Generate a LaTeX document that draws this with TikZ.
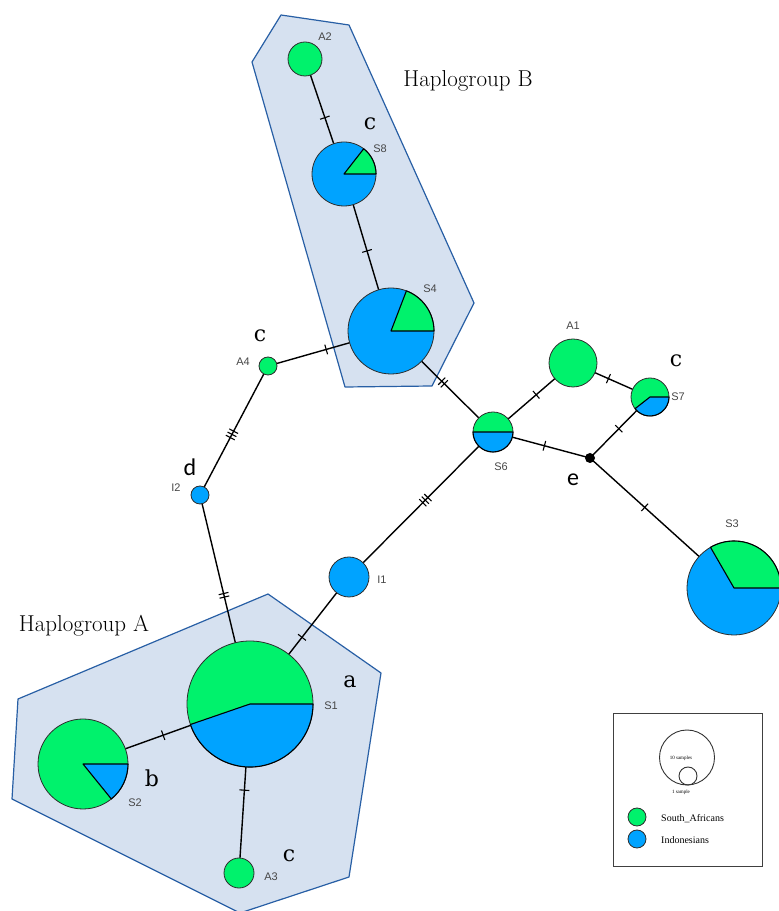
\documentclass[tikz,border=0pt]{standalone}
\usepackage{fontspec}
\newfontfamily\labfont{Liberation Sans}
\newfontfamily\legfont{Liberation Serif}
\newfontfamily\carlfont{Carlito}
\newfontfamily\letfont{DejaVu Serif}
\usetikzlibrary{decorations.markings}
\definecolor{sa}{RGB}{0,242,108}
\definecolor{ind}{RGB}{0,163,255}
\definecolor{grpfill}{RGB}{214,225,240}
\definecolor{grpline}{RGB}{40,95,165}
\definecolor{pieline}{RGB}{45,45,45}
\definecolor{labgray}{RGB}{70,70,70}
\pgfdeclarelayer{bg}
\pgfsetlayers{bg,main}
\begin{document}
\begin{tikzpicture}[x=1pt,y=1pt,
  edge/.style={line width=1.4pt, black},
  grp/.style={fill=grpfill, draw=grpline, line width=1.2pt, line join=round},
  hap/.style={circle, inner sep=0pt, draw=pieline, line width=0.8pt},
  sector/.style={draw=black, line width=1.1pt, line join=round},
  lbl/.style={font=\labfont\fontsize{11}{13}\selectfont, text=labgray, inner sep=0pt},
  letr/.style={font=\letfont\fontsize{22}{26}\selectfont, inner sep=0pt},
  letrs/.style={font=\carlfont\fontsize{24}{28}\selectfont, inner sep=0pt},
  grptext/.style={font=\fontsize{23}{27}\selectfont, inner sep=0pt},
  legtext/.style={font=\legfont\fontsize{10}{12}\selectfont, inner sep=0pt, anchor=west},
  tinytext/.style={font=\legfont\fontsize{5}{6}\selectfont, inner sep=0pt},
  tone/.style={postaction={decorate}, decoration={markings, mark=at position #1 with {\draw[line width=1.1pt] (0,-5pt)--(0,5pt);}}},
  ttwo/.style={postaction={decorate}, decoration={markings, mark=at position #1 with {\draw[line width=1.1pt] (-1.8pt,-5pt)--(-1.8pt,5pt) (1.8pt,-5pt)--(1.8pt,5pt);}}},
  tthree/.style={postaction={decorate}, decoration={markings, mark=at position #1 with {\draw[line width=1.1pt] (-3.6pt,-5pt)--(-3.6pt,5pt) (0,-5pt)--(0,5pt) (3.6pt,-5pt)--(3.6pt,5pt);}}}
]
\useasboundingbox (0,0) rectangle (779,911);

% haplotype circles
\node[hap, fill=sa,  minimum size=34pt] (A2) at (305,852) {};
\node[hap, fill=ind, minimum size=64pt] (S8) at (344,737) {};
\node[hap, fill=ind, minimum size=86pt] (S4) at (391,580) {};
\node[hap, fill=sa,  minimum size=18pt] (A4) at (268,545) {};
\node[hap, fill=ind, minimum size=18pt] (I2) at (200,416) {};
\node[hap, fill=ind, minimum size=40pt] (I1) at (349,334) {};
\node[hap, fill=sa,  minimum size=126pt] (S1) at (250,207) {};
\node[hap, fill=sa,  minimum size=90pt] (S2) at (83,147) {};
\node[hap, fill=sa,  minimum size=30pt] (A3) at (239,38) {};
\node[hap, fill=sa,  minimum size=40pt] (S6) at (493,479) {};
\node[hap, fill=sa,  minimum size=48pt] (A1) at (573,548) {};
\node[hap, fill=sa,  minimum size=38pt] (S7) at (650,514) {};
\node[circle, inner sep=0pt, fill=black, minimum size=10pt] (e) at (590,453) {};
\node[hap, fill=ind, minimum size=94pt] (S3) at (734,323) {};

\begin{pgfonlayer}{bg}
\filldraw[grp] (281,896) -- (349,886) -- (474,608) -- (432,525) -- (345,524) -- (252,849) -- cycle;
\filldraw[grp] (268,317) -- (381,238) -- (349,34) -- (240,-2) -- (12,112) -- (18,212) -- cycle;
\draw[edge, tone=0.51] (A2.center) -- (S8.center);
\draw[edge, tone=0.49] (S8.center) -- (S4.center);
\draw[edge, tone=0.527] (S4.center) -- (A4.center);
\draw[edge, ttwo=0.51] (S4.center) -- (S6.center);
\draw[edge, tthree=0.53] (A4.center) -- (I2.center);
\draw[edge, ttwo=0.48] (I2.center) -- (S1.center);
\draw[edge, tone=0.525] (S1.center) -- (I1.center);
\draw[edge, tthree=0.53] (I1.center) -- (S6.center);
\draw[edge, tone=0.48] (S2.center) -- (S1.center);
\draw[edge, tone=0.51] (S1.center) -- (A3.center);
\draw[edge, tone=0.54] (S6.center) -- (A1.center);
\draw[edge, tone=0.46] (A1.center) -- (S7.center);
\draw[edge, tone=0.52] (S7.center) -- (e.center);
\draw[edge, tone=0.53] (S6.center) -- (e.center);
\draw[edge, tone=0.38] (e.center) -- (S3.center);
\end{pgfonlayer}

% pie sectors
\filldraw[sector, fill=sa]  (S8.center) -- ++(0:32pt) arc[start angle=0, end angle=52, radius=32pt] -- cycle;
\filldraw[sector, fill=sa]  (S4.center) -- ++(0:43pt) arc[start angle=0, end angle=69, radius=43pt] -- cycle;
\filldraw[sector, fill=ind] (S1.center) -- ++(199:63pt) arc[start angle=199, end angle=360, radius=63pt] -- cycle;
\filldraw[sector, fill=ind] (S2.center) -- ++(-51:45pt) arc[start angle=-51, end angle=0, radius=45pt] -- cycle;
\filldraw[sector, fill=ind] (S6.center) -- ++(180:20pt) arc[start angle=180, end angle=360, radius=20pt] -- cycle;
\filldraw[sector, fill=ind] (S7.center) -- ++(218:19pt) arc[start angle=218, end angle=360, radius=19pt] -- cycle;
\filldraw[sector, fill=sa]  (S3.center) -- ++(0:47pt) arc[start angle=0, end angle=120, radius=47pt] -- cycle;

% haplotype labels
\node[lbl] (lA2) at (325,874) {A2};
\node[lbl] (lS8) at (380,762) {S8};
\node[lbl] (lS4) at (430,622) {S4};
\node[lbl] (lA4) at (243,549) {A4};
\node[lbl] (lI2) at (176,423) {I2};
\node[lbl] (lI1) at (382,331) {I1};
\node[lbl] (lS1) at (331,205) {S1};
\node[lbl] (lS2) at (135,108) {S2};
\node[lbl] (lA3) at (271,34) {A3};
\node[lbl] (lS6) at (501,444) {S6};
\node[lbl] (lA1) at (573,585) {A1};
\node[lbl] (lS7) at (678,514) {S7};
\node[lbl] (lS3) at (732,387) {S3};

% letters
\node[letr] (c1) at (370,787) {c};
\node[letr] (c2) at (260,575) {c};
\node[letrs] (d1) at (190,444) {d};
\node[letr] (a1) at (350,229) {a};
\node[letr] (b1) at (152,133) {b};
\node[letr] (c3) at (289,55) {c};
\node[letr] (c4) at (676,550) {c};
\node[letrs] (e1) at (573,431) {e};
\node[grptext] (hB) at (468,830) {Haplogroup B};
\node[grptext] (hA) at (84,285) {Haplogroup A};

% legend
\node[draw=black!75, line width=1pt, minimum width=149pt, minimum height=153pt, inner sep=0pt] (legend) at (687.5,120.5) {};
\node[circle, draw=black!80, line width=0.9pt, inner sep=0pt, minimum size=55pt] (big) at (687,153.5) {};
\node[circle, draw=black!80, line width=0.9pt, inner sep=0pt, minimum size=18pt] (small) at (688,135) {};
\node[tinytext] (t10) at (681,153) {10 samples};
\node[tinytext] (t1) at (681,119) {1 sample};
\node[hap, fill=sa,  minimum size=18pt] (lgS) at (637,94) {};
\node[hap, fill=ind, minimum size=18pt] (lgI) at (637,72) {};
\node[legtext] (tS) at (661,92) {South\_Africans};
\node[legtext] (tI) at (661,71) {Indonesians};
\end{tikzpicture}
\end{document}
